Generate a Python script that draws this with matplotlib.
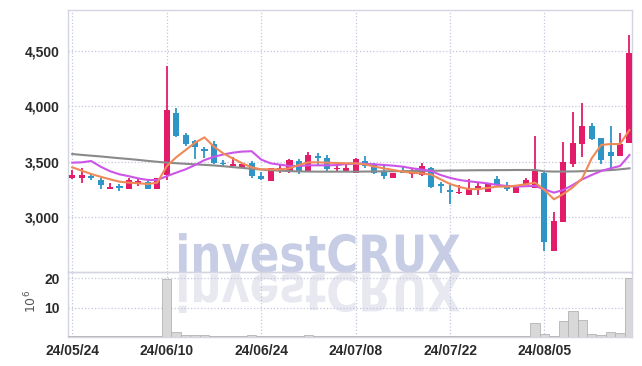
import matplotlib
matplotlib.use('Agg')
import matplotlib.pyplot as plt
import numpy as np
from matplotlib.textpath import TextPath
from matplotlib.patches import PathPatch
from matplotlib.transforms import Affine2D
from matplotlib.font_manager import FontProperties

# daily candles (KRW)
opens = [3351, 3351, 3372, 3336, 3258, 3270, 3258, 3306, 3321, 3258,
         3381, 3937, 3741, 3690, 3610, 3660, 3483, 3462, 3447, 3492,
         3372, 3330, 3420, 3411, 3507, 3420, 3552, 3531, 3432, 3420,
         3402, 3510, 3480, 3420, 3357, 3411, 3387, 3381, 3441, 3300,
         3246, 3216, 3201, 3261, 3231, 3342, 3291, 3216, 3291, 3267,
         3402, 2699, 2960, 3480, 3660, 3825, 3717, 3591, 3555, 3672]
highs = [3430, 3441, 3402, 3357, 3312, 3297, 3350, 3354, 3330, 3351,
         4363, 3982, 3762, 3700, 3631, 3685, 3516, 3546, 3490, 3510,
         3411, 3445, 3470, 3525, 3525, 3585, 3576, 3560, 3486, 3490,
         3530, 3552, 3490, 3480, 3402, 3456, 3441, 3486, 3450, 3321,
         3291, 3291, 3342, 3315, 3312, 3375, 3318, 3291, 3354, 3732,
         3405, 3048, 3676, 3951, 4032, 3852, 3717, 3822, 3762, 4642]
lows = [3345, 3306, 3336, 3252, 3258, 3237, 3258, 3285, 3258, 3258,
        3336, 3720, 3642, 3523, 3531, 3480, 3456, 3462, 3440, 3351,
        3336, 3330, 3402, 3396, 3390, 3405, 3471, 3420, 3411, 3420,
        3400, 3441, 3390, 3342, 3350, 3396, 3351, 3372, 3267, 3216,
        3120, 3210, 3201, 3201, 3231, 3282, 3240, 3216, 3291, 3260,
        2699, 2699, 2960, 3456, 3546, 3700, 3477, 3426, 3550, 3672]
closes = [3381, 3381, 3357, 3291, 3276, 3265, 3336, 3327, 3258, 3351,
          3967, 3732, 3660, 3631, 3600, 3492, 3478, 3480, 3480, 3372,
          3348, 3441, 3447, 3516, 3411, 3561, 3537, 3432, 3447, 3441,
          3522, 3462, 3396, 3372, 3402, 3400, 3405, 3462, 3276, 3282,
          3225, 3231, 3267, 3285, 3312, 3291, 3252, 3291, 3336, 3417,
          2780, 2967, 3495, 3667, 3823, 3705, 3516, 3555, 3660, 4483]

# moving average lines as drawn
ma_short = [3450, 3420, 3390, 3365, 3342, 3321, 3312, 3306, 3300, 3312,
            3460, 3540, 3606, 3672, 3720, 3636, 3575, 3530, 3486, 3450,
            3432, 3432, 3432, 3441, 3471, 3495, 3495, 3492, 3489, 3486,
            3486, 3477, 3456, 3441, 3426, 3411, 3402, 3395, 3385, 3342,
            3300, 3273, 3254, 3254, 3265, 3276, 3276, 3285, 3297, 3312,
            3246, 3162, 3210, 3270, 3351, 3531, 3651, 3660, 3660, 3786]
ma_mid = [3492, 3495, 3507, 3456, 3415, 3387, 3370, 3350, 3336, 3336,
          3370, 3402, 3432, 3471, 3515, 3545, 3566, 3582, 3592, 3595,
          3520, 3486, 3474, 3462, 3462, 3468, 3468, 3468, 3470, 3480,
          3484, 3482, 3477, 3471, 3465, 3456, 3441, 3430, 3417, 3381,
          3355, 3336, 3324, 3315, 3305, 3291, 3282, 3276, 3280, 3282,
          3252, 3222, 3246, 3291, 3342, 3381, 3417, 3441, 3462, 3561]
ma_long = [3570, 3562, 3555, 3548, 3540, 3532, 3525, 3517, 3508, 3500,
           3492, 3487, 3482, 3477, 3472, 3467, 3460, 3452, 3445, 3437,
           3430, 3424, 3420, 3416, 3413, 3412, 3411, 3411, 3411, 3411,
           3411, 3412, 3413, 3414, 3415, 3416, 3417, 3418, 3419, 3420,
           3421, 3422, 3423, 3424, 3424, 3425, 3425, 3426, 3426, 3426,
           3414, 3412, 3412, 3413, 3415, 3418, 3421, 3425, 3432, 3441]

# volume in millions
volume = [0.2, 0.15, 0.1, 0.2, 0.1, 0.1, 0.15, 0.1, 0.1, 0.2,
          19.9, 1.5, 0.7, 0.6, 0.6, 0.4, 0.3, 0.2, 0.25, 0.5,
          0.2, 0.3, 0.2, 0.2, 0.2, 0.5, 0.2, 0.15, 0.15, 0.1,
          0.1, 0.15, 0.1, 0.1, 0.1, 0.1, 0.15, 0.1, 0.4, 0.1,
          0.1, 0.1, 0.1, 0.1, 0.1, 0.1, 0.1, 0.1, 0.2, 4.7,
          0.9, 0.2, 5.3, 8.7, 5.7, 0.8, 0.5, 1.6, 1.3, 20.2]

tick_pos = [0, 10, 20, 30, 40, 50]
tick_labels = ['24/05/24', '24/06/10', '24/06/24', '24/07/08', '24/07/22', '24/08/05']

UP = '#e31c69'
DOWN = '#2f95c6'
GRID = '#c3c7de'
SPINE = '#d3d5e3'

plt.rcParams['font.family'] = ['Liberation Sans', 'DejaVu Sans']

W, H = 642, 366
fig = plt.figure(figsize=(W / 100, H / 100), dpi=100)
fig.patch.set_facecolor('white')
ax = fig.add_axes([68.3 / W, 1 - 272 / H, 564 / W, 262.5 / H])
axv = fig.add_axes([68.3 / W, 1 - 336.7 / H, 564 / W, 64.7 / H], sharex=ax)

# watermark + reflection
tp = TextPath((0, 0), 'investCRUX', size=100,
              prop=FontProperties(family='DejaVu Sans', weight='bold'))
ext = tp.get_extents()
sx = (460 - 179) / ext.width
sy = (272 - 233) / ext.y1
to_fig = Affine2D().scale(1 / W, 1 / H) + fig.transFigure
wm = PathPatch(tp, facecolor='#c6cde5', edgecolor='none', zorder=-2,
               transform=Affine2D().translate(-ext.x0, 0).scale(sx, sy).translate(179, H - 272) + to_fig)
refl = PathPatch(tp, facecolor='#e7e8f0', edgecolor='none', zorder=-2,
                 transform=Affine2D().translate(-ext.x0, 0).scale(sx, -sy).translate(179, H - 274) + to_fig)
fig.add_artist(refl)
fig.add_artist(wm)

x = np.arange(len(opens))
o = np.array(opens)
c = np.array(closes)
colors = [UP if cc >= oo else DOWN for oo, cc in zip(o, c)]
body_lo = np.minimum(o, c)
body_h = np.maximum(np.abs(c - o), 14)

ax.vlines(x, lows, highs, colors=colors, linewidth=1.3, zorder=3)
ax.bar(x, body_h, bottom=body_lo, width=0.64, color=colors, edgecolor='none', zorder=4)

ax.plot(x, ma_long, color='#8a8a8a', lw=1.5, zorder=5)
ax.plot(x, ma_mid, color='#cc55e8', lw=1.5, zorder=5)
ax.plot(x, ma_short, color='#ef8a56', lw=1.5, zorder=5)

axv.bar(x, volume, width=1.0, color='#d8d8d8', edgecolor='#b3b3b3', linewidth=0.6, zorder=3)

for a in (ax, axv):
    a.set_facecolor('none')
    for s in a.spines.values():
        s.set_color(SPINE)
        s.set_linewidth(1.0)
    a.grid(True, color=GRID, linestyle=':', linewidth=0.9)
    a.set_axisbelow(True)
    a.tick_params(length=0, labelsize=10, colors='#2a2a2a')

ax.set_xlim(-0.42, 59.3)
ax.set_ylim(2507, 4872)
ax.set_yticks([3000, 3500, 4000, 4500])
ax.set_yticklabels(['3,000', '3,500', '4,000', '4,500'], fontweight='bold')
ax.tick_params(axis='y', pad=6)
ax.tick_params(axis='x', labelbottom=False)
ax.set_xticks(tick_pos)

axv.set_ylim(0, 22.2)
axv.set_yticks([10, 20])
axv.set_yticklabels(['10', '20'], fontweight='bold')
axv.set_xticks(tick_pos)
axv.set_xticklabels(tick_labels, fontweight='bold')
axv.tick_params(axis='x', pad=5)
axv.tick_params(axis='y', pad=6)
fig.text(31 / W, 1 - 301 / H, r'$10^6$', rotation=90, ha='center', va='center',
         fontsize=9, color='#555555')

fig.savefig('out.png', dpi=100)
